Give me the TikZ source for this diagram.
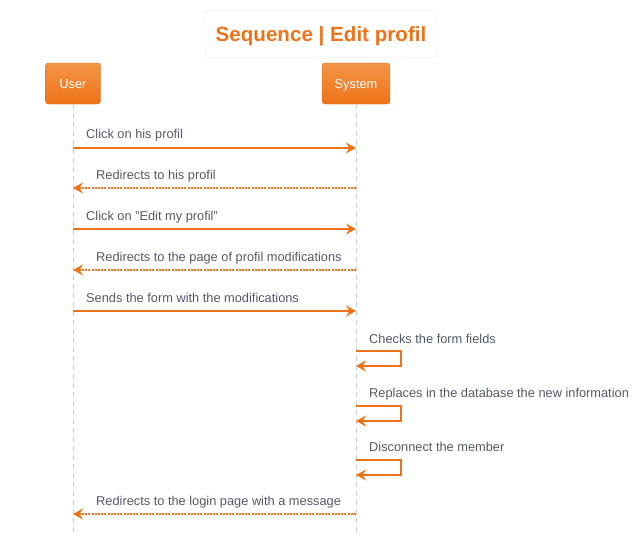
\documentclass[tikz,border=0pt]{standalone}
\usepackage{fontspec}
\setmainfont{Liberation Sans}
\usetikzlibrary{arrows.meta}
\definecolor{seqorange}{HTML}{EE7219}
\definecolor{seqlight}{HTML}{F29545}
\definecolor{seqtext}{HTML}{505A6A}

\begin{document}
\begin{tikzpicture}[x=1pt, y=-1pt,
		head/.style={draw=seqorange!90!black, rounded corners=3pt, top color=seqlight, bottom color=seqorange, text=white, minimum height=41pt, text height=9pt, text depth=0pt, font=\fontsize{12.8}{15}\selectfont},
		life/.style={draw=gray!40, line width=0.8pt, dash pattern=on 5pt off 4pt},
		msg/.style={draw=seqorange, line width=2.8pt, -{Stealth[length=10pt, width=11pt, inset=3.5pt]}},
		reply/.style={msg, dash pattern=on 2pt off 1.2pt},
		lbl/.style={anchor=base west, text=seqtext, inner sep=0pt, font=\fontsize{12.8}{15}\selectfont}]
		\useasboundingbox (0,0) rectangle (638,539);
		\node[draw=gray!20, rounded corners=4pt, minimum width=232pt, minimum height=47pt, text height=14.5pt, text depth=0pt, text=seqorange, font=\bfseries\fontsize{20.6}{24}\selectfont] (title) at (321,34) {Sequence | Edit profil};
		\node[head, minimum width=55pt] (user) at (73,83.5) {User};
		\node[head, minimum width=68pt] (system) at (356,83.5) {System};
		\coordinate (userend) at (73,532);
		\coordinate (systemend) at (356,532);
		\draw[life] (user) -- (userend);
		\draw[life] (system) -- (systemend);
		
		% message rows
		\foreach \n/\y in {1/148, 2/188, 3/229, 4/270, 5/311, 6/351, 7/406, 8/460, 9/514} {
			\coordinate (u\n) at (73,\y);
			\coordinate (s\n) at (356,\y);
			\coordinate (b\n) at (356,\y+15);
		}
		
		\draw[msg] (u1) -- (s1); \node[lbl] at (86,138) {Click on his profil};
		\draw[reply] (s2) -- (u2); \node[lbl] at (96,179) {Redirects to his profil};
		\draw[msg] (u3) -- (s3); \node[lbl] at (86,220) {Click on "Edit my profil"};
		\draw[reply] (s4) -- (u4); \node[lbl] at (96,261) {Redirects to the page of profil modifications};
		\draw[msg] (u5) -- (s5); \node[lbl] at (86,302) {Sends the form with the modifications};
		\draw[msg] (s6) -- ++(45,0) |- (b6); \node[lbl] at (369,343) {Checks the form fields};
		\draw[msg] (s7) -- ++(45,0) |- (b7); \node[lbl] at (369,397) {Replaces in the database the new information};
		\draw[msg] (s8) -- ++(45,0) |- (b8); \node[lbl] at (369,451) {Disconnect the member};
		\draw[reply] (s9) -- (u9); \node[lbl] at (96,505) {Redirects to the login page with a message};
	\end{tikzpicture}
\end{document}
